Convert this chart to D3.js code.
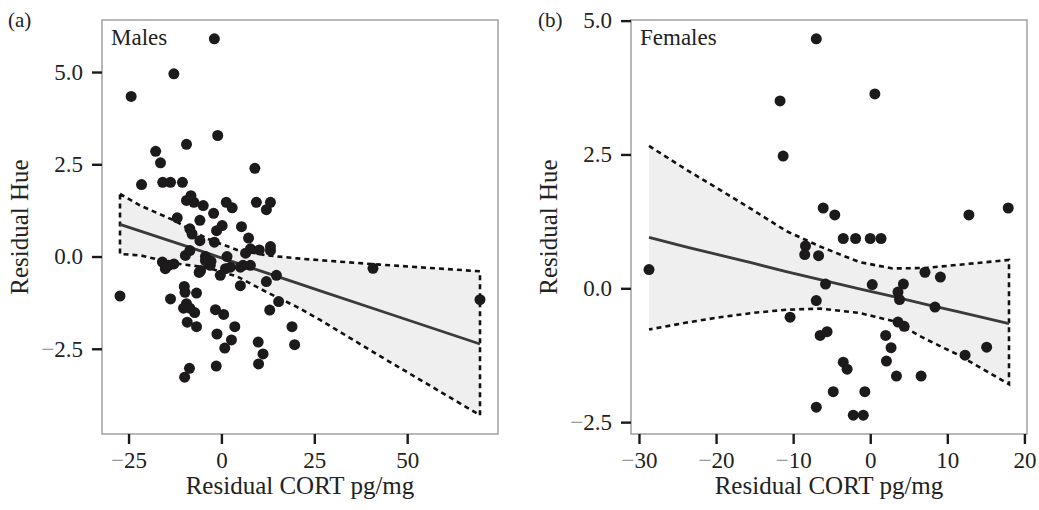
<!doctype html>
<html lang="en">
<head>
<meta charset="utf-8">
<script src="https://cdn.jsdelivr.net/npm/d3@7"></script>
<style>
  body { margin: 0; background: #fff; }
  svg { display: block; }
</style>
</head>
<body>
<div id="viz"></div>
<script>

// ---- data ----
// males: [residual CORT, residual hue]
const malePoints = [
  [-1.9,5.90],[-12.8,4.95],[-24.3,4.34],[-1.0,3.28],[-9.4,3.04],[-17.7,2.85],[-16.4,2.54],
  [9.0,2.39],[-21.5,1.95],[-15.8,2.01],[-13.7,2.01],[-10.5,2.01],[-8.2,1.65],[-9.4,1.52],
  [-7.4,1.47],[-4.9,1.38],[1.3,1.47],[2.9,1.32],[9.4,1.47],[13.2,1.47],[12.1,1.27],
  [-2.1,1.17],[-11.9,1.05],[-5.8,0.98],[0.2,0.84],[-1.3,0.70],[5.4,0.81],[-8.5,0.75],
  [-7.9,0.61],[-5.8,0.43],[-1.9,0.39],[7.3,0.50],[7.8,0.21],[10.2,0.18],[13.2,0.27],
  [13.2,0.16],[-9.7,0.03],[-8.5,0.16],[-4.3,0.0],[-2.8,-0.13],[1.5,0.0],[6.5,0.09],
  [5.8,-0.24],[7.8,-0.24],[-15.9,-0.15],[-14.2,-0.24],[-12.8,-0.20],[-15.1,-0.33],
  [-5.6,-0.38],[-3.0,-0.24],[-4.3,-0.11],[1.1,-0.33],[2.4,-0.29],[5.1,-0.29],[-0.3,-0.51],
  [14.8,-0.51],[12.1,-0.68],[5.1,-0.79],[40.8,-0.32],[69.6,-1.17],[-27.3,-1.07],
  [-13.7,-1.15],[-10.0,-0.81],[-9.8,-0.97],[-6.7,-0.99],[-9.4,-1.28],[-8.5,-1.40],
  [-7.2,-1.52],[-10.2,-1.40],[-9.2,-1.78],[-6.7,-1.90],[-1.6,-1.44],[0.6,-1.57],
  [3.6,-1.90],[-1.2,-2.10],[2.7,-2.26],[0.9,-2.48],[-1.4,-2.97],[-8.6,-3.03],[-9.9,-3.27],
  [9.9,-2.32],[11.2,-2.64],[10.0,-2.91],[19.0,-1.90],[19.7,-2.39],[15.4,-1.22],
  [13.0,-1.45],[-6.0,-0.43]
];
const maleFitX     = [-27.3, -21.8, -12.8, -3.8,  4.2,  12.3,  20.4,  26.6,  42.7,  69.6];
const maleFitMid   = [ 0.87,  0.69,  0.39,  0.09, -0.18, -0.45, -0.72, -0.93, -1.47, -2.37];
const maleFitLower = [ 0.07,  0.03, -0.18, -0.30, -0.54, -0.97, -1.37, -1.72, -2.70, -4.30];
const maleFitUpper = [ 1.70,  1.38,  0.98,  0.48,  0.18,  0.03, -0.05, -0.10, -0.22, -0.40];

// females
const femalePoints = [
  [-28.7,0.35],[-7.0,4.66],[-11.7,3.50],[0.6,3.63],[-11.3,2.47],[-6.1,1.50],[-4.6,1.37],
  [12.8,1.37],[17.9,1.50],[-3.5,0.93],[-1.9,0.93],[0.0,0.93],[1.4,0.93],[-8.4,0.79],
  [-8.5,0.63],[-6.7,0.61],[-5.8,0.08],[0.26,0.07],[3.6,-0.07],[3.8,-0.21],[4.3,0.08],
  [7.1,0.30],[9.1,0.21],[8.4,-0.35],[-7.0,-0.23],[-10.4,-0.54],[3.6,-0.63],[4.4,-0.71],
  [-6.5,-0.88],[-5.6,-0.81],[2.0,-0.88],[2.7,-1.11],[2.1,-1.36],[15.1,-1.10],[12.3,-1.25],
  [-3.5,-1.38],[-3.0,-1.51],[3.4,-1.64],[6.6,-1.64],[-4.8,-1.93],[-0.7,-1.93],[-7.0,-2.22],
  [-2.2,-2.37],[-0.9,-2.37]
];
const femaleFitX     = [-28.7, -23.8, -19.5, -15.2, -10.9, -6.5, -1.4,  2.9,  7.2,  11.5,  18.0];
const femaleFitMid   = [ 0.95,  0.77,  0.62,  0.47,  0.31,  0.16, -0.01, -0.15, -0.30, -0.44, -0.66];
const femaleFitLower = [-0.77, -0.64, -0.54, -0.46, -0.40, -0.38, -0.46, -0.61, -0.95, -1.25, -1.79];
const femaleFitUpper = [ 2.66,  2.21,  1.84,  1.46,  1.07,  0.78,  0.49,  0.37,  0.38,  0.44,  0.53];

const maleXTicks = [-25, 0, 25, 50];
const femaleXTicks = [-30, -20, -10, 0, 10, 20];
const hueTicks = [-2.5, 0, 2.5, 5];

const FONT = "'Liberation Serif', 'DejaVu Serif', serif";
const width = 1039, height = 510;
const plotTop = 20, plotBottom = 434;

const svg = d3.select("#viz").append("svg")
    .attr("width", width)
    .attr("height", height)
    .style("font-family", FONT);

// put a grey minus sign in front of negative tick labels
function signedLabel(sel, fmt) {
    sel.each(function(d) {
        const t = d3.select(this).text("");
        if (d < 0) t.append("tspan").attr("fill", "#9a9a9a").text("\u2212");
        t.append("tspan").text(fmt(Math.abs(d)));
    });
}

function drawPanel(p) {
    const g = svg.append("g");
    const expand = e => { const r = e[1] - e[0]; return [e[0] - 0.05 * r, e[1] + 0.05 * r]; };

    const xs = p.points.map(d => d[0]).concat(p.fitX);
    const ys = p.points.map(d => d[1]).concat(p.fitLower, p.fitUpper);

    const x = d3.scaleLinear().domain(expand(d3.extent(xs))).range([p.left, p.right]);
    const y = d3.scaleLinear().domain(expand(d3.extent(ys))).range([plotBottom, plotTop]);

    const band = p.fitX.map((v, i) => ({x: v, lo: p.fitLower[i], mid: p.fitMid[i], hi: p.fitUpper[i]}));

    // ribbon
    g.append("path")
        .datum(band)
        .attr("fill", "#efefef")
        .attr("d", d3.area().x(d => x(d.x)).y0(d => y(d.lo)).y1(d => y(d.hi)));

    // dashed outline of the ribbon
    let outline = band.map(d => [d.x, d.hi]).concat(band.slice().reverse().map(d => [d.x, d.lo]));
    if (p.closeLeft) outline.push(outline[0]);
    g.append("path")
        .attr("fill", "none")
        .attr("stroke", "#111")
        .attr("stroke-width", 2.6)
        .attr("stroke-dasharray", "5,4")
        .attr("d", d3.line().x(d => x(d[0])).y(d => y(d[1]))(outline));

    // fitted line
    g.append("path")
        .datum(band)
        .attr("fill", "none")
        .attr("stroke", "#3a3a3a")
        .attr("stroke-width", 2.8)
        .attr("d", d3.line().x(d => x(d.x)).y(d => y(d.mid)));

    // points
    g.append("g").selectAll("circle")
        .data(p.points)
        .join("circle")
        .attr("cx", d => x(d[0]))
        .attr("cy", d => y(d[1]))
        .attr("r", 5.5)
        .attr("fill", "#1c1a1b");

    // frame
    g.append("rect")
        .attr("x", p.left).attr("y", plotTop)
        .attr("width", p.right - p.left).attr("height", plotBottom - plotTop)
        .attr("fill", "none")
        .attr("stroke", "#9a9a9a")
        .attr("stroke-width", 1.4);

    // axes
    const ax = g.append("g")
        .attr("transform", `translate(0,${plotBottom})`)
        .call(d3.axisBottom(x).tickValues(p.xTicks).tickSize(10).tickPadding(8));
    const ay = g.append("g")
        .attr("transform", `translate(${p.left},0)`)
        .call(d3.axisLeft(y).tickValues(hueTicks).tickSize(10).tickPadding(9));

    [ax, ay].forEach(a => {
        a.select(".domain").remove();
        a.selectAll(".tick line").attr("stroke", "#1a1a1a").attr("stroke-width", 2.4);
        a.selectAll(".tick text")
            .attr("fill", "#222")
            .style("font-family", FONT)
            .style("font-size", "23px");
    });
    signedLabel(ax.selectAll(".tick text"), d3.format("d"));
    signedLabel(ay.selectAll(".tick text"), d3.format(".1f"));

    // titles
    g.append("text")
        .attr("x", (p.left + p.right) / 2)
        .attr("y", 494)
        .attr("text-anchor", "middle")
        .attr("fill", "#222")
        .style("font-size", "25px")
        .text("Residual CORT pg/mg");

    g.append("text")
        .attr("transform", `translate(${p.yTitleX},${(plotTop + plotBottom) / 2}) rotate(-90)`)
        .attr("text-anchor", "middle")
        .attr("fill", "#222")
        .style("font-size", "25px")
        .text("Residual Hue");

    g.append("text")
        .attr("x", p.left + 9)
        .attr("y", 45)
        .attr("fill", "#222")
        .style("font-size", "23px")
        .text(p.label);

    g.append("text")
        .attr("x", p.tagX)
        .attr("y", 27)
        .attr("fill", "#222")
        .style("font-size", "21px")
        .text(p.tag);
}

drawPanel({
    points: malePoints, fitX: maleFitX, fitMid: maleFitMid, fitLower: maleFitLower, fitUpper: maleFitUpper,
    xTicks: maleXTicks, left: 102, right: 498, closeLeft: true,
    label: "Males", tag: "(a)", tagX: 8, yTitleX: 28
});

drawPanel({
    points: femalePoints, fitX: femaleFitX, fitMid: femaleFitMid, fitLower: femaleFitLower, fitUpper: femaleFitUpper,
    xTicks: femaleXTicks, left: 631, right: 1027, closeLeft: false,
    label: "Females", tag: "(b)", tagX: 538, yTitleX: 557
});

</script>
</body>
</html>
